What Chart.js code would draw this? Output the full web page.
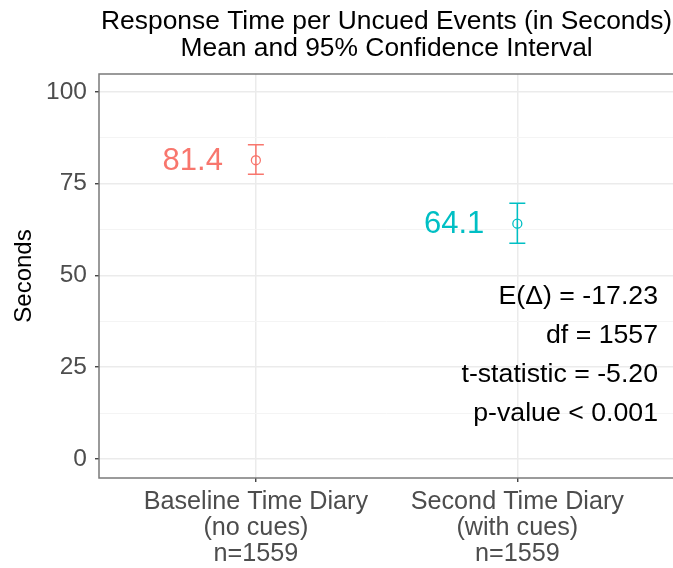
<!DOCTYPE html>
<html>
<head>
<meta charset="utf-8">
<script src="https://cdn.jsdelivr.net/npm/chart.js@4.4.1/dist/chart.umd.min.js"></script>
<style>
  body { margin: 0; background: #fff; overflow: hidden; }
  .wrap { position: absolute; left: 0; top: 0; width: 680px; height: 568px; }
</style>
</head>
<body>
<div class="wrap"><canvas id="chart"></canvas></div>
<script>
// data
const groups = [["Baseline Time Diary", "(no cues)", "n=1559"], ["Second Time Diary", "(with cues)", "n=1559"]];
const groupPos = [1, 2];
const means = [81.4, 64.1];
const lower = [77.6, 58.8];
const upper = [85.6, 69.7];
const colors = ["#F8766D", "#00BFC4"];
const yTicks = [0, 25, 50, 75, 100];
const yMinor = [12.5, 37.5, 62.5, 87.5];
const statLines = ["E(\u0394) = -17.23", "df = 1557", "t-statistic = -5.20", "p-value < 0.001"];
const titleLines = ["Response Time per Uncued Events (in Seconds)", "Mean and 95% Confidence Interval"];

const FONT = "'Liberation Sans', Arial, sans-serif";

//~~~~~~~~~~~~~~~~~~~~~~~~~~~~~~~~~~~~~~~~~~~~~~~~~~~~~~~~~~~~~~~~~~~~~~~~~
// error bars, labels, panel border, title and stats
const extras = {
  id: "extras",
  afterDatasetsDraw(chart) {
    const ctx = chart.ctx;
    const xs = chart.scales.x;
    const ys = chart.scales.y;
    const area = chart.chartArea;
    ctx.save();

    // error bars
    for (let i = 0; i < means.length; i++) {
      const x = xs.getPixelForValue(groupPos[i]);
      const yl = ys.getPixelForValue(lower[i]);
      const yu = ys.getPixelForValue(upper[i]);
      ctx.strokeStyle = colors[i];
      ctx.lineWidth = 1.5;
      ctx.beginPath();
      ctx.moveTo(x, yl); ctx.lineTo(x, yu);
      ctx.moveTo(x - 8, yl); ctx.lineTo(x + 8, yl);
      ctx.moveTo(x - 8, yu); ctx.lineTo(x + 8, yu);
      ctx.stroke();

      // value label
      ctx.fillStyle = colors[i];
      ctx.font = "31px " + FONT;
      ctx.textAlign = "right";
      ctx.textBaseline = "middle";
      ctx.fillText(means[i].toFixed(1), x - 33, ys.getPixelForValue(means[i]) + 1);
    }

    // panel border
    ctx.strokeStyle = "#7a7a7a";
    ctx.lineWidth = 1.5;
    ctx.strokeRect(area.left, area.top, area.right - area.left, area.bottom - area.top);

    // stats
    ctx.fillStyle = "#000";
    ctx.font = "26.7px " + FONT;
    ctx.textAlign = "right";
    ctx.textBaseline = "alphabetic";
    for (let i = 0; i < statLines.length; i++) {
      ctx.fillText(statLines[i], 658, 304 + i * 39);
    }

    // title
    ctx.font = "26.4px " + FONT;
    ctx.textAlign = "center";
    const cx = (area.left + area.right) / 2;
    ctx.fillText(titleLines[0], cx, 29);
    ctx.fillText(titleLines[1], cx, 56);
    ctx.restore();
  }
};

//~~~~~~~~~~~~~~~~~~~~~~~~~~~~~~~~~~~~~~~~~~~~~~~~~~~~~~~~~~~~~~~~~~~~~~~~~
const chartElement = document.getElementById("chart");
const config = {
  type: "scatter",
  data: {
    datasets: [{
      data: means.map((m, i) => ({ x: groupPos[i], y: m })),
      pointStyle: "circle",
      pointRadius: 4.5,
      pointBorderWidth: 1.3,
      pointBorderColor: colors,
      pointBackgroundColor: "rgba(0,0,0,0)",
      pointHoverRadius: 4.5
    }]
  },
  options: {
    responsive: true,
    maintainAspectRatio: false,
    animation: false,
    events: [],
    layout: { padding: { left: 0, right: 5, top: 74, bottom: 0 } },
    plugins: { legend: { display: false }, tooltip: { enabled: false }, title: { display: false } },
    scales: {
      x: {
        type: "linear",
        min: 0.4,
        max: 2.6,
        afterBuildTicks: (scale) => { scale.ticks = groupPos.map(v => ({ value: v })); },
        afterFit: (scale) => { scale.height = 90; },
        border: { display: false },
        grid: { color: "#ebebeb", lineWidth: 1.5, tickLength: 4, tickColor: "#333", tickWidth: 1.3 },
        ticks: {
          color: "#4d4d4d",
          font: { family: FONT, size: 25.2, lineHeight: 1.04 },
          padding: 7,
          maxRotation: 0,
          callback: (v) => groups[groupPos.indexOf(v)] || ""
        }
      },
      y: {
        min: -5.2,
        max: 104.9,
        afterBuildTicks: (scale) => {
          scale.ticks = yTicks.concat(yMinor).sort((a, b) => a - b).map(v => ({ value: v }));
        },
        afterFit: (scale) => { scale.width = 99; },
        border: { display: false },
        grid: {
          color: (c) => yMinor.includes(c.tick.value) ? "#f4f4f4" : "#ebebeb",
          lineWidth: (c) => yMinor.includes(c.tick.value) ? 1 : 1.5,
          tickLength: 4,
          tickColor: (c) => yMinor.includes(c.tick.value) ? "rgba(0,0,0,0)" : "#333",
          tickWidth: 1.3
        },
        ticks: {
          color: "#4d4d4d",
          font: { family: FONT, size: 24.5 },
          padding: 8,
          callback: (v) => yTicks.includes(v) ? String(v) : ""
        },
        title: {
          display: true,
          text: "Seconds",
          color: "#000",
          font: { family: FONT, size: 24 },
          padding: { top: 10, bottom: 0 }
        }
      }
    }
  },
  plugins: [extras]
};
let plotChart = new Chart(chartElement, config);
</script>
</body>
</html>
